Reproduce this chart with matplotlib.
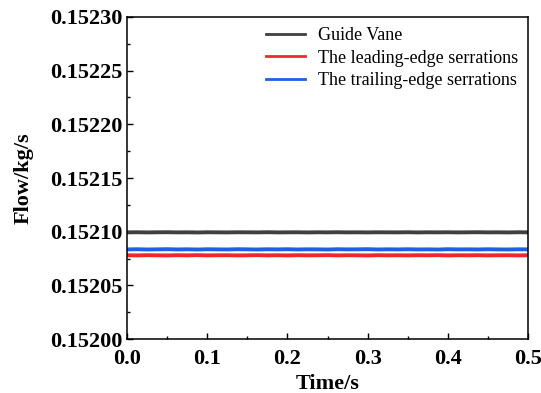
import numpy as np
import matplotlib.pyplot as plt
from matplotlib.ticker import MultipleLocator, FormatStrFormatter

plt.rcParams['font.family'] = ['Liberation Serif', 'DejaVu Serif']

# flow samples over 0 - 0.5 s
guide_vane = [0.15209942, 0.15209951, 0.15209937, 0.15209948, 0.15209955, 0.15209940,
              0.15209946, 0.15209933, 0.15209950, 0.15209944, 0.15209938, 0.15209952,
              0.15209947, 0.15209941, 0.15209956, 0.15209939, 0.15209945, 0.15209950,
              0.15209936, 0.15209949, 0.15209943, 0.15209954, 0.15209940, 0.15209947,
              0.15209938, 0.15209951, 0.15209945, 0.15209942, 0.15209953, 0.15209937,
              0.15209948, 0.15209944, 0.15209950, 0.15209939, 0.15209946, 0.15209955,
              0.15209941, 0.15209947, 0.15209936, 0.15209952, 0.15209944]
leading_edge = [0.15207810, 0.15207796, 0.15207818, 0.15207804, 0.15207792, 0.15207815,
                0.15207801, 0.15207822, 0.15207798, 0.15207809, 0.15207813, 0.15207795,
                0.15207806, 0.15207819, 0.15207800, 0.15207811, 0.15207794, 0.15207816,
                0.15207803, 0.15207808, 0.15207821, 0.15207797, 0.15207812, 0.15207805,
                0.15207790, 0.15207817, 0.15207802, 0.15207809, 0.15207799, 0.15207814,
                0.15207806, 0.15207820, 0.15207793, 0.15207810, 0.15207804, 0.15207815,
                0.15207798, 0.15207807, 0.15207812, 0.15207796, 0.15207808]
trailing_edge = [0.15208355, 0.15208370, 0.15208348, 0.15208362, 0.15208375, 0.15208352,
                 0.15208366, 0.15208345, 0.15208369, 0.15208358, 0.15208350, 0.15208373,
                 0.15208361, 0.15208347, 0.15208368, 0.15208356, 0.15208372, 0.15208351,
                 0.15208364, 0.15208359, 0.15208346, 0.15208371, 0.15208357, 0.15208363,
                 0.15208376, 0.15208349, 0.15208365, 0.15208354, 0.15208370, 0.15208353,
                 0.15208360, 0.15208344, 0.15208374, 0.15208357, 0.15208362, 0.15208350,
                 0.15208369, 0.15208355, 0.15208348, 0.15208366, 0.15208359]
time = np.linspace(0, 0.5, len(guide_vane))

fig, ax = plt.subplots(figsize=(5.41, 3.93), dpi=100)
fig.subplots_adjust(left=0.235, right=0.976, top=0.957, bottom=0.137)

ax.plot(time, guide_vane, color='#404040', lw=2.8, label='Guide Vane')
ax.plot(time, leading_edge, color='#f0282d', lw=2.8, label='The leading-edge serrations')
ax.plot(time, trailing_edge, color='#1f5fe0', lw=2.8, label='The trailing-edge serrations')

ax.set_xlim(0, 0.5)
ax.set_ylim(0.15200, 0.15230)
ax.xaxis.set_major_locator(MultipleLocator(0.1))
ax.xaxis.set_minor_locator(MultipleLocator(0.05))
ax.yaxis.set_major_locator(MultipleLocator(0.00005))
ax.yaxis.set_minor_locator(MultipleLocator(0.000025))
ax.xaxis.set_major_formatter(FormatStrFormatter('%.1f'))
ax.yaxis.set_major_formatter(FormatStrFormatter('%.5f'))
ax.tick_params(which='both', direction='in', width=1)
ax.tick_params(which='major', length=4.5, labelsize=16)
ax.tick_params(axis='y', pad=3)
ax.tick_params(axis='x', pad=7)
ax.tick_params(which='minor', length=2.5)
for lab in ax.get_xticklabels() + ax.get_yticklabels():
    lab.set_fontweight('bold')
for s in ax.spines.values():
    s.set_linewidth(1.1)

ax.set_xlabel('Time/s', fontsize=16, fontweight='bold', labelpad=4)
ax.set_ylabel('Flow/kg/s', fontsize=16, fontweight='bold', labelpad=12)

leg = ax.legend(loc='upper right', frameon=False, fontsize=13, handlelength=2.2,
                labelspacing=0.32, borderaxespad=0.15, handletextpad=0.7)
for line in leg.get_lines():
    line.set_linewidth(2)

fig.savefig('out.png', dpi=100)
